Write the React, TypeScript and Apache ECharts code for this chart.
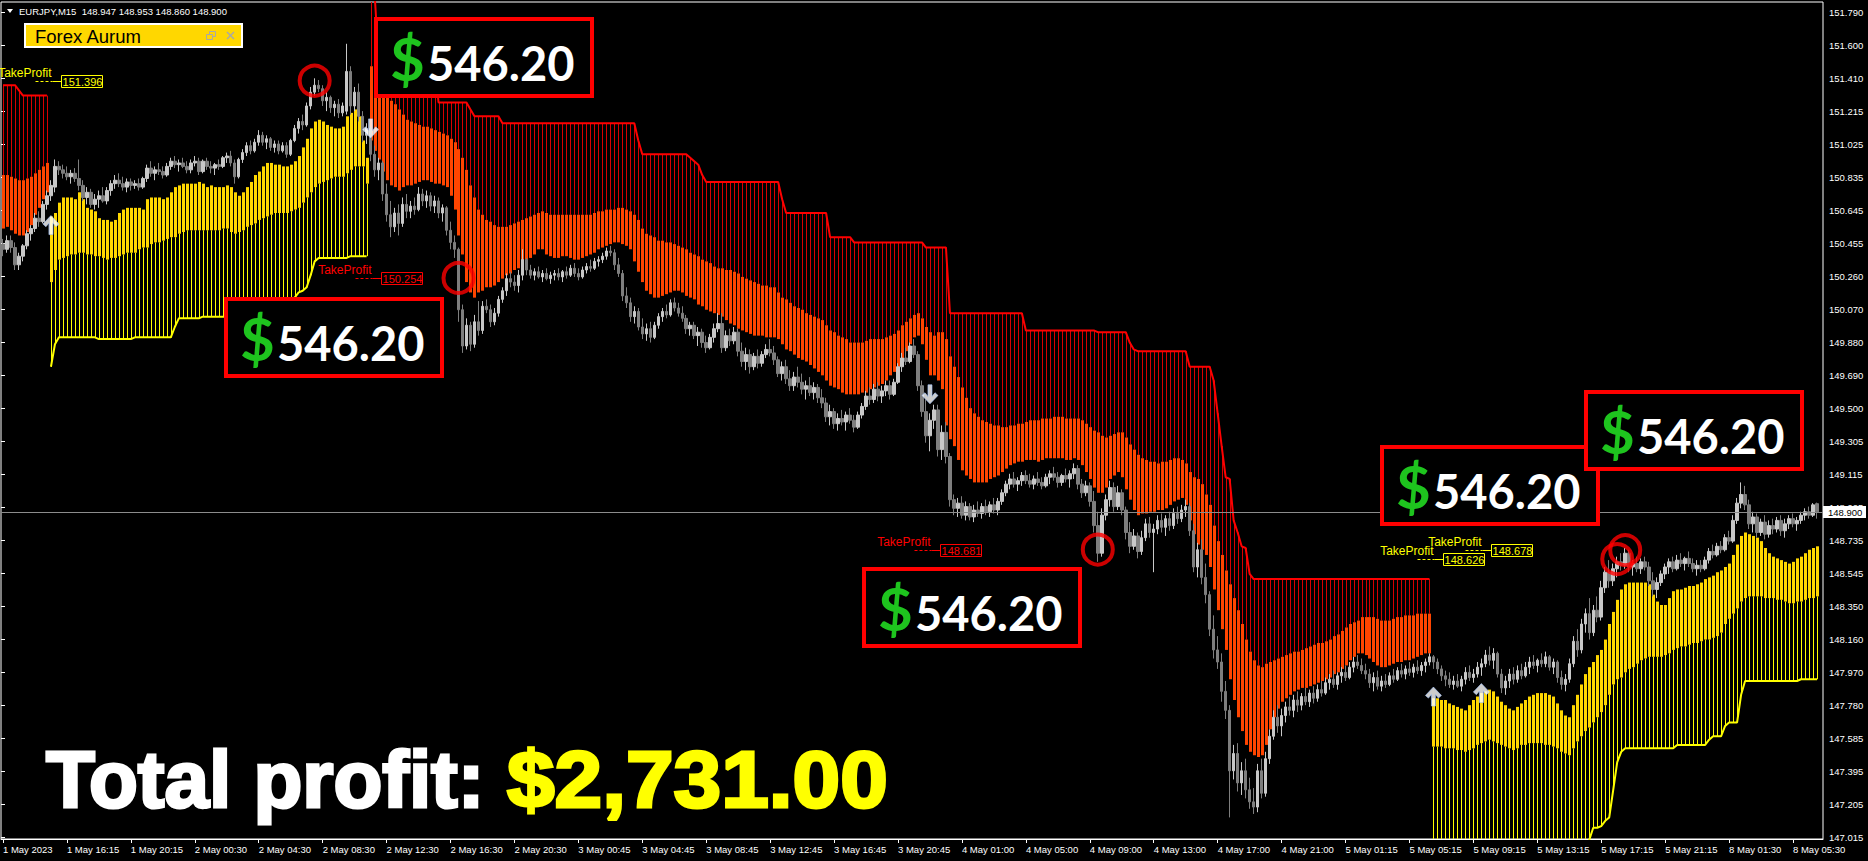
import React, { useEffect, useRef } from 'react';
import * as echarts from 'echarts';

// ---------- axis labels ----------
const timeLabels = ['1 May 2023','1 May 16:15','1 May 20:15','2 May 00:30','2 May 04:30','2 May 08:30','2 May 12:30','2 May 16:30','2 May 20:30','3 May 00:45','3 May 04:45','3 May 08:45','3 May 12:45','3 May 16:45','3 May 20:45','4 May 01:00','4 May 05:00','4 May 09:00','4 May 13:00','4 May 17:00','4 May 21:00','5 May 01:15','5 May 05:15','5 May 09:15','5 May 13:15','5 May 17:15','5 May 21:15','8 May 01:30','8 May 05:30'];
const yTickLabels = ['147.015','147.205','147.395','147.585','147.780','147.970','148.160','148.350','148.545','148.735','148.925','149.115','149.305','149.500','149.690','149.880','150.070','150.260','150.455','150.645','150.835','151.025','151.215','151.410','151.600','151.790'];
const Y_TICK_MIN = 147.015;
const Y_TICK_MAX = 151.79;
const Y_TICK_STEP = 0.191;
const PRICE_MIN = 147.005;
const PRICE_MAX = 151.852;
const LABEL_EVERY = 16;
const CATEGORY_COUNT = 456;

const symbolName = 'EURJPY,M15';
const lastQuote = [148.947, 148.953, 148.86, 148.9];
const bidPrice = 148.9;

// ---------- candles: [open, high, low, close] ----------
const ohlc = [
[150.45,150.48,150.38,150.42],[150.42,150.50,150.40,150.47],[150.47,150.50,150.40,150.43],[150.43,150.46,150.30,150.33],[150.33,150.40,150.30,150.38],[150.38,150.45,150.35,150.44],[150.44,150.53,150.42,150.51],[150.51,150.56,150.47,150.54],[150.54,150.63,150.52,150.60],[150.60,150.64,150.55,150.58],
[150.58,150.70,150.57,150.68],[150.68,150.76,150.65,150.73],[150.73,150.82,150.70,150.79],[150.78,150.94,150.75,150.90],[150.90,150.93,150.85,150.88],[150.88,150.91,150.83,150.86],[150.86,150.90,150.82,150.84],[150.84,150.88,150.80,150.86],[150.86,150.89,150.81,150.83],[150.83,150.94,150.76,150.79],
[150.79,150.82,150.70,150.72],[150.72,150.78,150.68,150.75],[150.75,150.77,150.66,150.68],[150.68,150.74,150.65,150.71],[150.71,150.76,150.66,150.73],[150.73,150.78,150.69,150.70],[150.70,150.78,150.68,150.76],[150.76,150.82,150.73,150.80],[150.80,150.85,150.77,150.82],[150.82,150.86,150.78,150.80],
[150.80,150.84,150.76,150.78],[150.78,150.83,150.75,150.81],[150.81,150.83,150.76,150.79],[150.79,150.82,150.77,150.80],[150.80,150.83,150.76,150.78],[150.78,150.84,150.77,150.83],[150.83,150.91,150.81,150.89],[150.89,150.93,150.84,150.86],[150.86,150.90,150.82,150.88],[150.88,150.92,150.85,150.87],
[150.87,150.90,150.83,150.85],[150.85,150.92,150.84,150.90],[150.90,150.95,150.88,150.93],[150.93,150.96,150.89,150.91],[150.91,150.94,150.87,150.92],[150.92,150.95,150.89,150.90],[150.90,150.93,150.86,150.88],[150.88,150.94,150.86,150.92],[150.92,150.96,150.90,150.93],[150.93,150.95,150.85,150.87],
[150.87,150.94,150.86,150.93],[150.93,150.95,150.88,150.90],[150.90,150.93,150.86,150.89],[150.89,150.92,150.85,150.91],[150.91,150.94,150.88,150.90],[150.90,150.96,150.89,150.95],[150.95,150.98,150.92,150.96],[150.96,150.99,150.90,150.92],[150.92,150.94,150.80,150.84],[150.84,150.95,150.83,150.94],
[150.94,151.00,150.92,150.98],[150.98,151.04,150.96,151.02],[151.02,151.05,150.97,150.99],[150.99,151.06,150.98,151.04],[151.04,151.11,151.02,151.08],[151.08,151.10,151.02,151.04],[151.04,151.08,151.00,151.06],[151.06,151.07,150.99,151.01],[151.01,151.05,150.98,151.03],[151.03,151.05,150.97,150.99],
[150.99,151.04,150.98,151.02],[151.02,151.04,150.95,150.97],[150.97,151.06,150.96,151.05],[151.05,151.14,151.04,151.12],[151.12,151.18,151.09,151.16],[151.16,151.20,151.11,151.14],[151.14,151.27,151.13,151.25],[151.25,151.36,151.23,151.33],[151.33,151.41,151.31,151.37],[151.37,151.40,151.33,151.35],
[151.35,151.37,151.25,151.28],[151.28,151.33,151.22,151.30],[151.30,151.31,151.21,151.24],[151.24,151.28,151.19,151.26],[151.26,151.29,151.18,151.21],[151.21,151.27,151.19,151.25],[151.22,151.61,151.20,151.45],[151.45,151.48,151.20,151.25],[151.25,151.36,151.22,151.33],[151.33,151.38,151.16,151.19],
[151.19,151.22,151.04,151.08],[151.08,151.15,151.03,151.12],[151.12,151.13,150.93,150.97],[150.97,151.02,150.84,150.88],[150.88,150.95,150.82,150.92],[150.92,150.93,150.70,150.74],[150.74,150.80,150.58,150.62],[150.62,150.70,150.49,150.55],[150.55,150.66,150.52,150.63],[150.63,150.68,150.50,150.57],
[150.57,150.72,150.55,150.68],[150.68,150.74,150.60,150.64],[150.64,150.70,150.60,150.67],[150.67,150.72,150.62,150.65],[150.65,150.78,150.64,150.74],[150.74,150.77,150.67,150.70],[150.70,150.76,150.66,150.73],[150.73,150.75,150.64,150.67],[150.67,150.73,150.63,150.70],[150.70,150.72,150.60,150.63],
[150.63,150.68,150.58,150.66],[150.66,150.67,150.50,150.53],[150.53,150.58,150.42,150.46],[150.46,150.50,150.37,150.42],[150.42,150.43,150.00,150.07],[150.07,150.10,149.82,149.86],[149.86,150.02,149.84,149.98],[149.98,150.00,149.83,149.87],[149.87,150.04,149.85,150.00],[150.00,150.12,149.92,149.95],
[149.95,150.12,149.93,150.09],[150.09,150.13,150.05,150.07],[150.07,150.10,149.97,150.00],[150.00,150.08,149.98,150.05],[150.05,150.15,150.03,150.13],[150.13,150.20,150.11,150.18],[150.18,150.28,150.15,150.25],[150.25,150.29,150.20,150.23],[150.23,150.27,150.18,150.21],[150.21,150.30,150.17,150.27],
[150.27,150.42,150.24,150.36],[150.36,150.37,150.27,150.30],[150.30,150.33,150.25,150.27],[150.27,150.31,150.24,150.29],[150.29,150.32,150.25,150.26],[150.26,150.30,150.23,150.28],[150.28,150.31,150.24,150.25],[150.25,150.29,150.22,150.27],[150.27,150.30,150.24,150.28],[150.28,150.31,150.24,150.26],
[150.26,150.30,150.23,150.29],[150.29,150.32,150.25,150.27],[150.27,150.33,150.26,150.31],[150.31,150.34,150.26,150.28],[150.28,150.31,150.24,150.26],[150.26,150.32,150.25,150.30],[150.30,150.34,150.28,150.32],[150.32,150.36,150.29,150.31],[150.31,150.37,150.30,150.35],[150.35,150.38,150.32,150.36],
[150.36,150.40,150.34,150.38],[150.38,150.43,150.36,150.41],[150.41,150.44,150.38,150.40],[150.40,150.42,150.30,150.33],[150.33,150.37,150.26,150.28],[150.28,150.30,150.12,150.15],[150.15,150.20,150.08,150.11],[150.11,150.14,150.00,150.03],[150.03,150.09,149.99,150.06],[150.06,150.08,149.95,149.97],
[149.97,150.02,149.90,149.93],[149.93,149.99,149.89,149.96],[149.96,150.00,149.88,149.91],[149.91,150.00,149.90,149.98],[149.98,150.05,149.96,150.03],[150.03,150.08,150.00,150.06],[150.06,150.10,150.02,150.04],[150.04,150.13,150.03,150.11],[150.11,150.14,150.06,150.08],[150.08,150.11,150.03,150.05],
[150.05,150.09,150.00,150.02],[150.02,150.04,149.93,149.96],[149.96,150.00,149.92,149.98],[149.98,150.00,149.90,149.92],[149.92,149.97,149.86,149.94],[149.94,149.96,149.85,149.88],[149.88,149.92,149.82,149.85],[149.85,149.93,149.84,149.91],[149.91,149.99,149.88,149.96],[149.96,150.05,149.94,149.99],
[149.99,150.05,149.82,149.85],[149.85,149.95,149.83,149.92],[149.92,149.96,149.86,149.89],[149.89,149.97,149.87,149.94],[149.94,149.96,149.80,149.83],[149.83,149.88,149.74,149.77],[149.77,149.85,149.72,149.81],[149.81,149.84,149.70,149.74],[149.74,149.82,149.72,149.80],[149.80,149.84,149.73,149.76],
[149.76,149.83,149.74,149.81],[149.81,149.87,149.79,149.84],[149.84,149.90,149.80,149.82],[149.82,149.86,149.75,149.78],[149.78,149.80,149.68,149.70],[149.70,149.77,149.66,149.74],[149.74,149.78,149.64,149.67],[149.67,149.72,149.60,149.63],[149.63,149.71,149.60,149.68],[149.68,149.74,149.62,149.65],
[149.65,149.70,149.58,149.61],[149.61,149.66,149.55,149.63],[149.63,149.68,149.57,149.59],[149.59,149.65,149.55,149.62],[149.62,149.64,149.53,149.56],[149.56,149.61,149.50,149.53],[149.53,149.56,149.42,149.45],[149.45,149.52,149.40,149.48],[149.48,149.50,149.38,149.41],[149.41,149.47,149.37,149.44],
[149.44,149.49,149.40,149.42],[149.42,149.48,149.37,149.46],[149.46,149.50,149.41,149.43],[149.43,149.46,149.36,149.39],[149.39,149.48,149.38,149.46],[149.46,149.53,149.44,149.51],[149.51,149.60,149.49,149.57],[149.57,149.62,149.52,149.55],[149.55,149.64,149.53,149.61],[149.61,149.65,149.54,149.57],
[149.57,149.63,149.53,149.60],[149.60,149.66,149.57,149.63],[149.63,149.66,149.55,149.58],[149.58,149.67,149.57,149.65],[149.65,149.76,149.64,149.74],[149.74,149.82,149.71,149.79],[149.79,149.85,149.75,149.77],[149.77,149.88,149.76,149.86],[149.86,149.90,149.79,149.81],[149.81,149.83,149.60,149.63],
[149.63,149.66,149.45,149.48],[149.48,149.55,149.30,149.34],[149.34,149.47,149.25,149.43],[149.43,149.52,149.38,149.49],[149.49,149.52,149.22,149.26],[149.26,149.40,149.20,149.36],[149.36,149.42,149.18,149.22],[149.22,149.24,148.93,148.97],[148.97,149.00,148.88,148.92],[148.92,148.98,148.87,148.95],
[148.95,148.99,148.86,148.88],[148.88,148.96,148.85,148.93],[148.93,148.95,148.85,148.87],[148.87,148.94,148.84,148.91],[148.91,148.96,148.87,148.89],[148.89,148.95,148.86,148.93],[148.93,148.97,148.88,148.90],[148.90,148.96,148.87,148.94],[148.94,148.98,148.89,148.91],[148.91,148.98,148.88,148.96],
[148.96,149.03,148.94,149.01],[149.01,149.08,148.99,149.06],[149.06,149.12,149.03,149.09],[149.09,149.13,149.04,149.06],[149.06,149.10,149.02,149.08],[149.08,149.13,149.05,149.11],[149.11,149.14,149.06,149.08],[149.08,149.12,149.04,149.06],[149.06,149.11,149.03,149.09],[149.09,149.13,149.05,149.07],
[149.07,149.10,149.03,149.05],[149.05,149.12,149.04,149.10],[149.10,149.14,149.06,149.12],[149.12,149.16,149.08,149.10],[149.10,149.13,149.04,149.07],[149.07,149.12,149.05,149.11],[149.11,149.15,149.07,149.09],[149.09,149.14,149.04,149.12],[149.12,149.18,149.09,149.15],[149.15,149.17,149.03,149.06],
[149.06,149.09,148.98,149.01],[149.01,149.08,148.99,149.05],[149.05,149.07,148.93,148.96],[148.96,149.02,148.78,148.82],[148.82,148.90,148.61,148.66],[148.66,148.92,148.64,148.88],[148.88,149.00,148.85,148.97],[148.97,149.08,148.93,149.04],[149.04,149.07,148.90,148.93],[148.93,149.05,148.91,149.01],
[149.01,149.03,148.88,148.91],[148.91,148.93,148.74,148.78],[148.78,148.84,148.66,148.70],[148.70,148.80,148.68,148.76],[148.76,148.78,148.63,148.67],[148.67,148.79,148.65,148.75],[148.75,148.86,148.73,148.83],[148.83,148.87,148.75,148.78],[148.78,148.83,148.55,148.80],[148.80,148.88,148.77,148.85],
[148.85,148.89,148.78,148.81],[148.81,148.88,148.76,148.86],[148.86,148.90,148.79,148.82],[148.82,148.92,148.80,148.89],[148.89,148.93,148.83,148.86],[148.86,148.94,148.84,148.91],[148.91,148.97,148.87,148.93],[148.93,148.95,148.76,148.79],[148.79,148.83,148.55,148.58],[148.58,148.72,148.52,148.68],
[148.68,148.74,148.48,148.52],[148.52,148.60,148.37,148.42],[148.42,148.44,148.18,148.22],[148.22,148.30,148.05,148.10],[148.10,148.18,147.99,148.03],[148.03,148.08,147.80,147.86],[147.86,147.92,147.70,147.75],[147.75,147.78,147.13,147.40],[147.40,147.55,147.35,147.50],[147.50,147.56,147.28,147.33],
[147.33,147.45,147.26,147.40],[147.40,147.47,147.24,147.29],[147.29,147.36,147.18,147.22],[147.22,147.30,147.15,147.19],[147.19,147.44,147.16,147.40],[147.40,147.47,147.24,147.27],[147.27,147.51,147.25,147.47],[147.47,147.64,147.44,147.60],[147.60,147.75,147.58,147.71],[147.71,147.78,147.62,147.66],
[147.66,147.76,147.60,147.72],[147.72,147.80,147.68,147.77],[147.77,147.83,147.72,147.75],[147.75,147.84,147.71,147.81],[147.81,147.86,147.74,147.78],[147.78,147.85,147.75,147.83],[147.83,147.88,147.78,147.80],[147.80,147.87,147.77,147.85],[147.85,147.89,147.79,147.82],[147.82,147.90,147.80,147.87],
[147.87,147.92,147.83,147.85],[147.85,147.94,147.84,147.91],[147.91,147.96,147.87,147.93],[147.93,147.98,147.88,147.90],[147.90,147.97,147.87,147.95],[147.95,148.00,147.91,147.97],[147.97,148.01,147.92,147.94],[147.94,148.03,147.93,148.00],[148.00,148.06,147.97,148.03],[148.03,148.07,147.99,148.01],
[148.01,148.05,147.96,147.98],[147.98,148.02,147.93,147.96],[147.96,147.99,147.88,147.91],[147.91,147.97,147.86,147.94],[147.94,147.98,147.87,147.89],[147.89,147.95,147.86,147.92],[147.92,147.96,147.88,147.90],[147.90,147.97,147.89,147.95],[147.95,147.99,147.91,147.93],[147.93,148.00,147.92,147.98],
[147.98,148.02,147.94,147.96],[147.96,148.01,147.93,147.99],[147.99,148.03,147.95,147.97],[147.97,148.02,147.94,148.00],[148.00,148.04,147.96,147.98],[147.98,148.03,147.95,148.01],[148.01,148.05,147.97,148.03],[148.03,148.08,148.01,148.06],[148.06,148.07,147.99,148.03],[148.03,148.05,147.96,147.99],
[147.99,148.01,147.92,147.95],[147.95,147.98,147.89,147.93],[147.93,147.97,147.88,147.90],[147.90,147.95,147.87,147.92],[147.92,147.96,147.88,147.89],[147.89,147.95,147.86,147.93],[147.93,148.00,147.90,147.97],[147.97,148.01,147.92,147.94],[147.94,147.99,147.91,147.96],[147.96,148.03,147.94,148.00],
[148.00,148.05,147.95,148.02],[148.02,148.10,148.00,148.07],[148.07,148.12,148.01,148.04],[148.04,148.11,147.99,148.08],[148.08,148.09,147.94,147.96],[147.96,147.99,147.85,147.88],[147.88,147.95,147.84,147.92],[147.92,147.99,147.88,147.96],[147.96,148.00,147.90,147.93],[147.93,148.01,147.91,147.98],
[147.98,148.02,147.93,147.95],[147.95,148.03,147.94,148.00],[148.00,148.06,147.96,148.03],[148.03,148.07,147.99,148.01],[148.01,148.05,147.97,148.04],[148.04,148.08,148.00,148.02],[148.02,148.09,148.00,148.06],[148.06,148.07,147.98,148.00],[148.00,148.05,147.96,148.03],[148.03,148.04,147.91,147.94],
[147.94,147.98,147.87,147.90],[147.90,147.96,147.86,147.93],[147.93,148.05,147.91,148.02],[148.02,148.18,148.00,148.15],[148.15,148.22,148.06,148.10],[148.10,148.28,148.08,148.25],[148.25,148.34,148.20,148.31],[148.31,148.40,148.16,148.20],[148.20,148.36,148.18,148.33],[148.33,148.41,148.26,148.29],
[148.29,148.50,148.27,148.46],[148.46,148.58,148.43,148.55],[148.55,148.62,148.46,148.50],[148.50,148.60,148.47,148.57],[148.57,148.64,148.52,148.61],[148.61,148.66,148.56,148.59],[148.59,148.69,148.57,148.66],[148.66,148.68,148.55,148.58],[148.58,148.62,148.53,148.60],[148.60,148.64,148.55,148.57],
[148.57,148.63,148.54,148.61],[148.61,148.64,148.56,148.58],[148.58,148.61,148.47,148.50],[148.50,148.55,148.41,148.45],[148.45,148.52,148.40,148.49],[148.49,148.56,148.47,148.54],[148.54,148.60,148.51,148.58],[148.58,148.63,148.54,148.61],[148.61,148.64,148.55,148.57],[148.57,148.65,148.56,148.62],
[148.62,148.66,148.58,148.60],[148.60,148.64,148.56,148.63],[148.63,148.67,148.58,148.60],[148.60,148.63,148.55,148.57],[148.57,148.62,148.53,148.59],[148.59,148.62,148.55,148.57],[148.57,148.64,148.56,148.62],[148.62,148.69,148.60,148.67],[148.67,148.71,148.63,148.65],[148.65,148.72,148.64,148.70],
[148.70,148.73,148.66,148.68],[148.68,148.77,148.67,148.75],[148.75,148.79,148.71,148.73],[148.73,148.88,148.72,148.85],[148.85,148.98,148.83,148.95],[148.95,149.07,148.92,149.00],[149.00,149.05,148.91,148.94],[148.94,148.97,148.80,148.83],[148.83,148.90,148.78,148.87],[148.87,148.89,148.75,148.78],
[148.78,148.86,148.76,148.84],[148.84,148.88,148.74,148.77],[148.77,148.85,148.75,148.82],[148.82,148.86,148.77,148.80],[148.80,148.87,148.78,148.85],[148.85,148.88,148.76,148.79],[148.79,148.86,148.75,148.83],[148.83,148.88,148.80,148.86],[148.86,148.89,148.81,148.83],[148.83,148.87,148.79,148.85],
[148.85,148.90,148.83,148.88],[148.88,148.92,148.85,148.90],[148.90,148.93,148.86,148.88],[148.88,148.95,148.87,148.94],[148.947,148.953,148.86,148.90]
];

// ---------- trend indicator ----------
const trendPhases = [
  { from: 0, to: 11, dir: 'down' },
  { from: 12, to: 91, dir: 'up' },
  { from: 92, to: 357, dir: 'down' },
  { from: 358, to: 454, dir: 'up' },
];

// stop line as runs [fromBar, toBar, price]
const stopRuns = [
[0,3,151.37],[4,4,151.34],[5,11,151.31],
[12,12,149.74],[13,13,149.87],[14,23,149.91],[24,32,149.90],[33,42,149.91],[43,43,149.97],[44,49,150.02],[50,70,150.03],[71,71,150.08],[72,72,150.12],[73,73,150.14],[74,74,150.17],[75,75,150.18],[76,76,150.20],[77,77,150.27],[78,78,150.35],[79,86,150.37],[87,91,150.38],
[92,93,151.90],[94,108,151.52],[109,116,151.27],[117,117,151.23],[118,124,151.19],[125,158,151.15],[159,159,151.05],[160,171,150.97],[172,172,150.95],[173,173,150.93],[174,174,150.91],[175,175,150.85],[176,194,150.81],[195,195,150.71],[196,206,150.63],[207,212,150.49],[213,230,150.46],[231,236,150.43],[237,255,150.05],[256,273,149.95],[274,281,149.94],[282,282,149.88],[283,283,149.84],[284,296,149.83],[297,302,149.74],[303,303,149.66],[304,304,149.47],[305,305,149.28],[306,306,149.10],[307,307,149.09],[308,308,148.85],[309,309,148.78],[310,310,148.70],[311,311,148.69],[312,312,148.54],[313,357,148.51],
[358,396,146.90],[397,397,147.00],[398,399,147.07],[400,400,147.08],[401,401,147.11],[402,402,147.13],[403,403,147.29],[404,404,147.45],[405,405,147.51],[406,418,147.53],[419,426,147.55],[427,427,147.58],[428,430,147.60],[431,431,147.66],[432,434,147.68],[435,435,147.84],[436,449,147.92],[450,454,147.93]
];

// outer edge of the thick band (far from price)
const bandOuter = [
150.85,150.85,150.84,150.83,150.82,150.82,150.83,150.84,150.86,150.88,150.90,150.92,
150.23,150.30,150.36,150.37,150.38,150.39,150.39,150.40,150.40,150.39,
150.39,150.38,150.38,150.37,150.36,150.37,150.37,150.38,150.39,150.40,
150.40,150.40,150.42,150.43,150.43,150.45,150.46,150.46,150.47,150.48,
150.49,150.49,150.51,150.52,150.53,150.53,150.53,150.53,150.53,150.53,
150.53,150.53,150.53,150.54,150.54,150.52,150.51,150.52,150.53,150.55,
150.56,150.57,150.59,150.60,150.61,150.62,150.63,150.63,150.63,150.63,
150.64,150.65,150.66,150.69,150.72,150.75,150.78,150.80,150.81,150.82,
150.83,150.84,150.84,150.84,150.86,150.88,150.90,150.90,150.90,150.80,
151.48,151.46,151.43,151.37,151.31,151.28,151.26,151.23,151.20,151.17,
151.16,151.15,151.14,151.13,151.13,151.12,151.11,151.10,151.09,151.08,
151.06,151.04,151.00,150.95,150.88,150.79,150.72,150.65,150.62,150.59,
150.58,150.56,150.55,150.55,150.55,150.56,150.57,150.58,150.59,150.60,
150.61,150.62,150.63,150.64,150.63,150.62,150.62,150.62,150.62,150.62,
150.62,150.62,150.62,150.62,150.62,150.62,150.63,150.64,150.64,150.65,
150.65,150.65,150.66,150.66,150.65,150.64,150.62,150.59,150.54,150.51,
150.50,150.49,150.47,150.47,150.46,150.46,150.45,150.44,150.43,150.42,
150.40,150.39,150.38,150.36,150.35,150.34,150.32,150.31,150.31,150.30,
150.30,150.29,150.28,150.26,150.25,150.24,150.23,150.22,150.21,150.21,
150.20,150.20,150.17,150.14,150.13,150.11,150.09,150.08,150.07,150.05,
150.04,150.03,150.02,150.01,149.98,149.95,149.94,149.92,149.91,149.90,
149.88,149.88,149.88,149.88,149.89,149.90,149.90,149.90,149.90,149.91,
149.92,149.93,149.95,149.98,150.00,150.02,150.04,150.05,150.02,149.97,
149.94,149.92,149.94,149.94,149.90,149.80,149.74,149.68,149.62,149.56,
149.50,149.47,149.45,149.43,149.42,149.41,149.40,149.40,149.39,149.39,
149.40,149.40,149.41,149.41,149.42,149.43,149.43,149.43,149.44,149.44,
149.44,149.45,149.45,149.45,149.44,149.44,149.44,149.44,149.43,149.41,
149.39,149.37,149.36,149.34,149.33,149.34,149.35,149.36,149.36,149.33,
149.29,149.26,149.23,149.21,149.20,149.19,149.19,149.18,149.19,149.19,
149.20,149.21,149.21,149.20,149.18,149.13,149.10,149.09,149.06,149.00,
148.94,148.82,148.73,148.65,148.56,148.48,148.40,148.33,148.25,148.16,
148.09,148.04,148.01,148.00,148.02,148.03,148.04,148.05,148.06,148.07,
148.08,148.09,148.09,148.10,148.11,148.12,148.13,148.14,148.14,148.15,
148.16,148.18,148.19,148.21,148.23,148.25,148.26,148.27,148.29,148.29,
148.29,148.29,148.28,148.27,148.27,148.27,148.28,148.29,148.29,148.30,
148.30,148.30,148.31,148.31,148.31,148.31,
147.54,147.54,147.54,147.53,147.53,147.53,147.52,147.52,147.51,147.52,
147.53,147.55,147.56,147.57,147.58,147.57,147.56,147.55,147.54,147.53,
147.52,147.53,147.55,147.55,147.56,147.56,147.56,147.56,147.55,147.55,
147.54,147.53,147.51,147.50,147.49,147.53,147.57,147.60,147.63,147.65,
147.68,147.71,147.74,147.78,147.84,147.90,147.93,147.94,147.97,147.99,
148.00,148.02,148.04,148.05,148.06,148.06,148.06,148.06,148.07,148.08,
148.10,148.11,148.12,148.12,148.13,148.14,148.14,148.15,148.16,148.16,
148.17,148.18,148.20,148.25,148.28,148.31,148.34,148.38,148.40,148.41,
148.41,148.41,148.41,148.40,148.40,148.40,148.39,148.39,148.38,148.37,
148.37,148.38,148.38,148.39,148.40,148.40,148.41
];

// inner edge of the thick band (next to price)
const bandInner = [
150.54,150.55,150.53,150.51,150.50,150.50,150.52,150.56,150.62,150.66,150.71,150.75,
150.61,150.63,150.69,150.72,150.72,150.72,150.71,150.75,150.71,150.66,
150.65,150.64,150.60,150.59,150.59,150.58,150.59,150.63,150.65,150.66,
150.66,150.66,150.66,150.65,150.71,150.72,150.72,150.72,150.71,150.72,
150.75,150.78,150.79,150.80,150.80,150.80,150.80,150.81,150.80,150.78,
150.79,150.78,150.78,150.78,150.79,150.78,150.75,150.73,150.75,150.78,
150.81,150.85,150.87,150.90,150.92,150.92,150.91,150.91,150.90,150.90,
150.91,150.93,150.96,151.01,151.06,151.12,151.16,151.17,151.16,151.14,
151.13,151.12,151.12,151.13,151.19,151.21,151.23,151.19,151.05,150.95,
151.05,150.99,150.94,150.87,150.82,150.79,150.78,150.76,150.78,150.79,
150.79,150.80,150.81,150.82,150.82,150.81,150.80,150.80,150.79,150.78,
150.73,150.65,150.50,150.39,150.23,150.17,150.14,150.17,150.18,150.20,
150.20,150.21,150.23,150.25,150.27,150.28,150.30,150.31,150.35,150.36,
150.37,150.39,150.42,150.42,150.39,150.38,150.37,150.37,150.38,150.38,
150.37,150.36,150.36,150.37,150.38,150.39,150.40,150.42,150.43,150.44,
150.45,150.46,150.46,150.45,150.44,150.42,150.35,150.29,150.23,150.18,
150.16,150.14,150.14,150.15,150.16,150.17,150.18,150.18,150.17,150.15,
150.14,150.13,150.10,150.09,150.07,150.06,150.05,150.04,150.03,150.01,
149.99,149.98,149.96,149.95,149.94,149.93,149.92,149.92,149.92,149.91,
149.91,149.91,149.90,149.87,149.84,149.83,149.81,149.79,149.78,149.77,
149.75,149.73,149.71,149.69,149.66,149.63,149.62,149.61,149.59,149.58,
149.58,149.58,149.58,149.59,149.59,149.61,149.62,149.63,149.64,149.66,
149.69,149.71,149.74,149.78,149.83,149.87,149.91,149.92,149.87,149.78,
149.69,149.69,149.66,149.61,149.40,149.32,149.28,149.20,149.14,149.11,
149.09,149.07,149.07,149.07,149.07,149.09,149.10,149.11,149.13,149.15,
149.17,149.18,149.19,149.19,149.20,149.20,149.20,149.19,149.20,149.21,
149.21,149.21,149.21,149.21,149.20,149.20,149.21,149.20,149.17,149.13,
149.09,149.04,149.01,149.01,149.04,149.09,149.11,149.13,149.10,149.03,
148.97,148.91,148.88,148.89,148.89,148.90,148.90,148.91,148.91,148.92,
148.94,148.96,148.97,148.98,148.94,148.85,148.77,148.71,148.68,148.65,
148.58,148.45,148.33,148.22,148.10,147.93,147.81,147.71,147.63,147.55,
147.51,147.49,147.48,147.49,147.55,147.64,147.71,147.76,147.80,147.82,
147.84,147.86,147.87,147.88,147.88,147.89,147.90,147.91,147.92,147.93,
147.94,147.96,147.97,147.99,148.01,148.04,148.06,148.08,148.08,148.07,
148.05,148.03,148.01,148.00,148.00,148.01,148.02,148.03,148.03,148.04,
148.04,148.05,148.06,148.07,148.08,148.08,
147.82,147.82,147.81,147.81,147.79,147.78,147.77,147.76,147.75,147.78,
147.81,147.83,147.85,147.86,147.87,147.86,147.83,147.80,147.78,147.76,
147.75,147.77,147.79,147.81,147.83,147.84,147.85,147.85,147.85,147.84,
147.83,147.79,147.75,147.72,147.71,147.78,147.84,147.90,147.96,148.00,
148.03,148.07,148.10,148.16,148.25,148.32,148.39,148.45,148.48,148.49,
148.49,148.49,148.49,148.49,148.48,148.42,148.38,148.36,148.36,148.40,
148.44,148.45,148.45,148.46,148.47,148.47,148.48,148.49,148.51,148.52,
148.53,148.55,148.56,148.58,148.60,148.65,148.71,148.76,148.78,148.77,
148.76,148.75,148.73,148.69,148.66,148.64,148.63,148.62,148.61,148.60,
148.61,148.63,148.64,148.66,148.68,148.69,148.70
];

// ---------- trade annotations ----------
const takeProfits = [
  { bar: 15, price: 151.396, side: 'buy' },
  { bar: 95, price: 150.254, side: 'sell' },
  { bar: 235, price: 148.681, side: 'sell' },
  { bar: 373, price: 148.678, side: 'buy' },
  { bar: 361, price: 148.626, side: 'buy' },
];
const hitCircles = [[78, 151.396], [114, 150.254], [274, 148.681], [404, 148.626], [406, 148.678]];
const signalArrows = [[12, 150.56, 'up'], [92, 151.12, 'down'], [232, 149.58, 'down'], [358, 147.83, 'up'], [370, 147.85, 'up']];
const tradeProfits = ['546.20', '546.20', '546.20', '546.20', '546.20'];
const totalProfit = '$2,731.00';

// layout of the profit callouts (pixels)
const profitBoxPos = [[374, 17], [224, 297], [862, 567], [1380, 445], [1584, 390]];

const C = {
  bg: '#000000',
  bull: '#c8c8c8',
  bear: '#7e7e7e',
  orange: '#ff4500',
  thinRed: '#d80000',
  stopRed: '#ff0000',
  gold: '#ffd700',
  yellow: '#ffff00',
  white: '#ffffff',
  green: '#1ec41e',
};

const ARROW_UP = 'path://M8,0 L16,8 L13,10.5 L10,7 L10,18 L6,18 L6,7 L3,10.5 L0,8 Z';
const ARROW_DOWN = 'path://M8,18 L16,10 L13,7.5 L10,11 L10,0 L6,0 L6,11 L3,7.5 L0,10 Z';

export default function App() {
  const ref = useRef<HTMLDivElement>(null);

  useEffect(() => {
    document.body.style.margin = '0';
    document.body.style.background = '#000';
    const el = ref.current;
    if (!el) return;
    const chart = echarts.init(el, null, { renderer: 'svg' });

    const n = ohlc.length;
    const dirOf: string[] = new Array(n).fill('up');
    trendPhases.forEach((p) => { for (let i = p.from; i <= p.to; i++) dirOf[i] = p.dir; });
    const stopLine: number[] = new Array(n).fill(NaN);
    stopRuns.forEach(([a, b, v]) => { for (let i = a; i <= b; i++) stopLine[i] = v; });

    const categories = Array.from({ length: CATEGORY_COUNT }, (_, i) => String(i));
    const indicatorData = ohlc.map((_, i) => [i, stopLine[i], bandOuter[i], bandInner[i], dirOf[i] === 'down' ? 1 : 0]);
    const redStop = ohlc.map((_, i) => (dirOf[i] === 'down' ? stopLine[i] : null));
    const yellowStop = ohlc.map((_, i) => (dirOf[i] === 'up' ? stopLine[i] : null));
    const candleData = ohlc.map(([o, h, l, c]) => [o, c, l, h]);

    const labelFont = 'Liberation Sans';

    const option: any = {
      animation: false,
      backgroundColor: C.bg,
      grid: [
        { left: 1, right: 45, top: 2, bottom: 22, show: true, borderColor: C.white, borderWidth: 1, backgroundColor: 'transparent' },
        { left: 1, right: 45, top: 12.7, bottom: 23.7, show: false },
      ],
      xAxis: [
        {
          type: 'category', gridIndex: 0, data: categories, boundaryGap: true,
          axisLine: { show: true, lineStyle: { color: C.white, width: 1 } },
          axisTick: { show: true, alignWithLabel: true, length: 4, interval: (i: number) => i % LABEL_EVERY === 0, lineStyle: { color: C.white } },
          axisLabel: {
            show: true, interval: (i: number) => i % LABEL_EVERY === 0,
            formatter: (v: string) => timeLabels[Number(v) / LABEL_EVERY] ?? '',
            color: C.white, fontSize: 9.5, fontFamily: labelFont, align: 'left', margin: 5,
          },
          splitLine: { show: false },
        },
        { type: 'value', gridIndex: 1, show: false, min: 0, max: 1 },
      ],
      yAxis: [
        { type: 'value', gridIndex: 0, min: PRICE_MIN, max: PRICE_MAX, show: false, splitLine: { show: false } },
        {
          type: 'value', gridIndex: 1, position: 'right', min: Y_TICK_MIN, max: Y_TICK_MAX, interval: Y_TICK_STEP,
          axisLine: { show: false },
          axisTick: { show: true, length: 4, inside: false, lineStyle: { color: C.white } },
          axisLabel: {
            color: C.white, fontSize: 9.5, fontFamily: labelFont, margin: 6,
            formatter: (v: number) => yTickLabels[Math.round((v - Y_TICK_MIN) / Y_TICK_STEP)] ?? '',
          },
          splitLine: { show: false },
        },
      ],
      series: [
        {
          type: 'custom', name: 'bands', xAxisIndex: 0, yAxisIndex: 0, clip: true, silent: true, z: 1,
          encode: { x: 0, y: [1, 2, 3] },
          data: indicatorData,
          renderItem: (params: any, api: any) => {
            const i = api.value(0);
            const pS = api.coord([i, api.value(1)]);
            const pO = api.coord([i, api.value(2)]);
            const pI = api.coord([i, api.value(3)]);
            const down = api.value(4) === 1;
            const cx = Math.round(pS[0]);
            const top = Math.min(pO[1], pI[1]);
            return {
              type: 'group',
              children: [
                { type: 'line', shape: { x1: cx + 0.5, y1: pS[1], x2: cx + 0.5, y2: pO[1] }, style: { stroke: down ? C.thinRed : C.yellow, lineWidth: 1 } },
                { type: 'rect', shape: { x: cx - 1, y: top, width: 3, height: Math.abs(pI[1] - pO[1]) }, style: { fill: down ? C.orange : C.gold } },
              ],
            };
          },
        },
        {
          type: 'line', name: 'redStop', data: redStop, symbol: 'none', connectNulls: false, silent: true, z: 2,
          lineStyle: { color: C.stopRed, width: 2 },
        },
        {
          type: 'line', name: 'yellowStop', data: yellowStop, symbol: 'none', connectNulls: false, silent: true, z: 2,
          lineStyle: { color: C.yellow, width: 2 },
        },
        {
          type: 'candlestick', name: symbolName, data: candleData, barWidth: 3, silent: true, z: 3,
          itemStyle: { color: C.bull, color0: C.bear, borderColor: C.bull, borderColor0: C.bear, borderWidth: 1 },
          markLine: {
            silent: true, symbol: ['none', 'none'], label: { show: false },
            lineStyle: { color: '#8c8c8c', width: 1, type: 'solid' },
            data: [{ yAxis: bidPrice }],
          },
        },
        {
          type: 'scatter', name: 'hits', data: hitCircles, symbol: 'circle', symbolSize: 30, silent: true, z: 5,
          itemStyle: { color: 'rgba(0,0,0,0)', borderColor: '#ff0000', borderWidth: 4 },
        },
        {
          type: 'scatter', name: 'signals', silent: true, z: 6,
          data: signalArrows.map(([b, p, d]) => ({ value: [b, p], symbol: d === 'up' ? ARROW_UP : ARROW_DOWN })),
          symbolSize: [16, 19],
          itemStyle: { color: C.white, borderColor: '#a9c8ff', borderWidth: 0.8 },
        },
      ],
    };

    chart.setOption(option);

    const px = (bar: number, price: number) => chart.convertToPixel({ gridIndex: 0 } as any, [bar, price]) as number[];
    const g: any[] = [];

    // header
    g.push({ type: 'polygon', z: 100, shape: { points: [[7, 9], [13, 9], [10, 13]] }, style: { fill: C.white } });
    g.push({ type: 'text', z: 100, style: { text: `${symbolName}  ${lastQuote.map((v) => v.toFixed(3)).join(' ')}`, x: 19, y: 11, fill: C.white, font: `9.5px ${labelFont}`, textAlign: 'left', textVerticalAlign: 'middle' } });

    // Forex Aurum panel
    g.push({ type: 'rect', z: 100, shape: { x: 25, y: 24, width: 217, height: 23 }, style: { fill: C.gold, stroke: C.white, lineWidth: 2 } });
    g.push({ type: 'text', z: 101, style: { text: 'Forex Aurum', x: 35, y: 36, fill: '#000', font: `18.5px ${labelFont}`, textAlign: 'left', textVerticalAlign: 'middle' } });
    g.push({ type: 'rect', z: 101, shape: { x: 209.5, y: 31.5, width: 6, height: 5 }, style: { fill: 'none', stroke: '#a8a8a8', lineWidth: 1 } });
    g.push({ type: 'rect', z: 101, shape: { x: 206.5, y: 34.5, width: 6, height: 5 }, style: { fill: C.gold, stroke: '#a8a8a8', lineWidth: 1 } });
    g.push({ type: 'line', z: 101, shape: { x1: 227, y1: 32, x2: 234, y2: 39 }, style: { stroke: '#a8a8a8', lineWidth: 1.5 } });
    g.push({ type: 'line', z: 101, shape: { x1: 234, y1: 32, x2: 227, y2: 39 }, style: { stroke: '#a8a8a8', lineWidth: 1.5 } });

    // take profit labels
    takeProfits.forEach((tp) => {
      const [x, y] = px(tp.bar, tp.price);
      const col = tp.side === 'buy' ? C.yellow : '#ff0000';
      const bx = Math.round(x) - 1.5;
      const yy = Math.round(y) + 0.5;
      g.push({ type: 'line', z: 100, shape: { x1: bx - 26, y1: yy, x2: bx - 9, y2: yy }, style: { stroke: col, lineWidth: 1, lineDash: [3, 2] } });
      g.push({ type: 'line', z: 100, shape: { x1: bx - 9, y1: yy, x2: bx, y2: yy }, style: { stroke: col, lineWidth: 1 } });
      g.push({ type: 'rect', z: 100, shape: { x: bx, y: yy - 6, width: 41, height: 12 }, style: { fill: '#000', stroke: col, lineWidth: 1 } });
      g.push({ type: 'text', z: 101, style: { text: tp.price.toFixed(3), x: bx + 21, y: yy + 0.5, fill: col, font: `11px ${labelFont}`, textAlign: 'center', textVerticalAlign: 'middle' } });
      g.push({ type: 'text', z: 101, style: { text: 'TakeProfit', x: bx - 10, y: yy - 9, fill: col, font: `12px ${labelFont}`, textAlign: 'right', textVerticalAlign: 'middle' } });
    });

    // current bid label on price axis
    const [, bidY] = px(0, bidPrice);
    g.push({ type: 'rect', z: 100, shape: { x: 1823, y: Math.round(bidY) - 6, width: 43, height: 12 }, style: { fill: C.white } });
    g.push({ type: 'text', z: 101, style: { text: bidPrice.toFixed(3), x: 1828, y: Math.round(bidY) + 0.5, fill: '#000', font: `9.5px ${labelFont}`, textAlign: 'left', textVerticalAlign: 'middle' } });

    // profit callouts
    profitBoxPos.forEach(([bx, by], k) => {
      g.push({ type: 'rect', z: 110, shape: { x: bx + 2, y: by + 2, width: 216, height: 77 }, style: { fill: '#000', stroke: '#ff0000', lineWidth: 4 } });
      g.push({ type: 'text', z: 111, style: { text: '$', x: bx + 16, y: by + 41, fill: C.green, font: 'bold 60px Lato', textAlign: 'left', textVerticalAlign: 'middle' } });
      g.push({ type: 'text', z: 111, style: { text: tradeProfits[k], x: bx + 53, y: by + 46, fill: C.white, font: 'bold 47px Lato', textAlign: 'left', textVerticalAlign: 'middle' } });
    });

    // total profit
    g.push({ type: 'text', z: 120, x: 46, y: 779, style: { text: 'Total profit:', x: 0, y: 0, fill: C.white, stroke: C.white, lineWidth: 3, font: `bold 80px ${labelFont}`, textAlign: 'left', textVerticalAlign: 'middle' } });
    g.push({ type: 'text', z: 120, x: 507, y: 779, scaleX: 1.07, style: { text: totalProfit, x: 0, y: 0, fill: C.yellow, stroke: C.yellow, lineWidth: 3, font: `bold 80px ${labelFont}`, textAlign: 'left', textVerticalAlign: 'middle' } });

    chart.setOption({ graphic: { elements: g } });

    return () => chart.dispose();
  }, []);

  return <div ref={ref} style={{ width: 1868, height: 861 }} />;
}
